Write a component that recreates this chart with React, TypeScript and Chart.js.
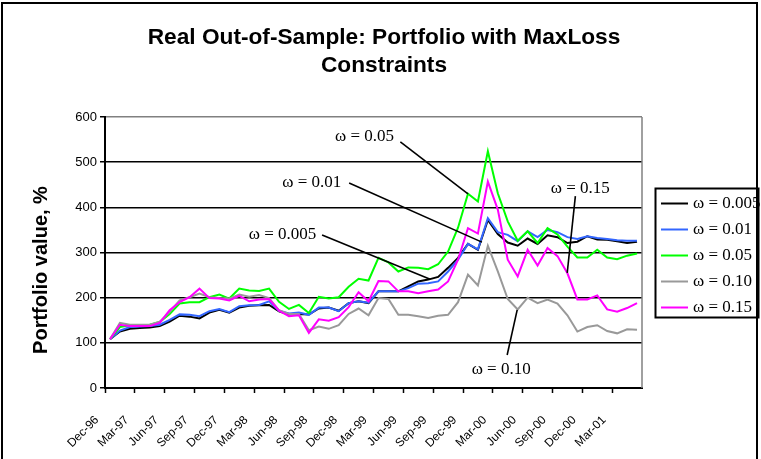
import { useEffect, useRef } from "react";
import { Chart, registerables } from "chart.js";

Chart.register(...registerables);

const months = [
  "Dec-96",
  "Jan-97", "Feb-97", "Mar-97", "Apr-97", "May-97", "Jun-97", "Jul-97", "Aug-97", "Sep-97", "Oct-97", "Nov-97", "Dec-97",
  "Jan-98", "Feb-98", "Mar-98", "Apr-98", "May-98", "Jun-98", "Jul-98", "Aug-98", "Sep-98", "Oct-98", "Nov-98", "Dec-98",
  "Jan-99", "Feb-99", "Mar-99", "Apr-99", "May-99", "Jun-99", "Jul-99", "Aug-99", "Sep-99", "Oct-99", "Nov-99", "Dec-99",
  "Jan-00", "Feb-00", "Mar-00", "Apr-00", "May-00", "Jun-00", "Jul-00", "Aug-00", "Sep-00", "Oct-00", "Nov-00", "Dec-00",
  "Jan-01", "Feb-01", "Mar-01", "Apr-01", "May-01",
];

const seriesNames = ["ω = 0.005", "ω = 0.01", "ω = 0.05", "ω = 0.10", "ω = 0.15"];
const seriesColors = ["#000000", "#3366FF", "#00FF00", "#999999", "#FF00FF"];

const omega005 = [108,125,131,133,134,137,147,160,158,154,167,173,167,178,182,183,184,170,163,164,163,176,178,171,188,192,188,214,214,214,225,236,240,246,266,288,319,306,372,341,322,315,331,319,338,334,321,324,336,329,328,325,321,324];
const omega01 = [108,127,135,136,137,140,151,163,162,159,170,175,168,181,183,184,192,171,165,167,162,178,178,170,188,192,189,214,214,214,221,231,232,236,258,284,319,307,376,345,339,325,347,334,350,345,334,330,336,332,330,327,326,326];
const omega05 = [108,135,139,139,140,146,164,187,190,190,201,207,198,220,216,215,220,191,175,184,166,202,198,201,224,242,238,288,278,258,267,266,263,274,302,355,430,413,524,431,369,326,347,321,354,340,313,289,289,306,289,285,293,298];
const omega10 = [108,144,140,140,140,147,168,194,201,209,201,199,198,207,202,206,199,172,164,164,128,136,131,139,164,176,161,199,197,162,162,159,155,160,162,190,251,227,315,258,197,174,200,188,196,187,161,125,135,139,126,121,130,129];
const omega15 = [108,140,137,137,137,144,172,190,201,220,199,198,194,204,192,196,197,171,159,161,122,152,149,157,179,212,192,237,236,214,214,210,214,218,236,284,354,342,457,395,284,247,306,271,310,292,254,196,196,205,174,169,177,188];

const seriesValues = [omega005, omega01, omega05, omega10, omega15];

const yTicks = [0, 100, 200, 300, 400, 500, 600];

const titleLines = ["Real Out-of-Sample: Portfolio with MaxLoss", "Constraints"];
const yAxisTitle = "Portfolio value, %";

// Callout labels anchored in data space: [category index, value]
const callouts = [
  { text: "ω = 0.05", at: [25.6, 556], from: [29.2, 545], to: [36, 430] },
  { text: "ω = 0.01", at: [20.3, 454], from: [24.05, 454], to: [37.4, 323] },
  { text: "ω = 0.005", at: [17.36, 339], from: [21.33, 339], to: [32.2, 241] },
  { text: "ω = 0.15", at: [47.3, 441], from: [46.8, 425], to: [45.98, 255] },
  { text: "ω = 0.10", at: [39.34, 40], from: [39.94, 73], to: [40.95, 173] },
];

const SANS = "'Liberation Sans', Arial, sans-serif";
const SERIF = "'Liberation Serif', 'Times New Roman', serif";

const decor = {
  id: "decor",
  beforeDraw(chart: any) {
    const { ctx, width, height } = chart;
    ctx.save();
    ctx.fillStyle = "#ffffff";
    ctx.fillRect(0, 0, width, height);
    ctx.restore();
  },
  beforeDatasetsDraw(chart: any) {
    const { ctx, chartArea } = chart;
    ctx.save();
    ctx.strokeStyle = "#808080";
    ctx.lineWidth = 1.5;
    ctx.beginPath();
    ctx.moveTo(chartArea.right, chartArea.top);
    ctx.lineTo(chartArea.right, chartArea.bottom);
    ctx.stroke();
    ctx.restore();
  },
  afterDraw(chart: any) {
    const { ctx, scales } = chart;
    const xs = scales.x;
    const ys = scales.y;
    ctx.save();

    // callouts
    ctx.strokeStyle = "#000";
    ctx.lineWidth = 1.6;
    ctx.fillStyle = "#000";
    ctx.font = `17px ${SERIF}`;
    ctx.textAlign = "center";
    ctx.textBaseline = "middle";
    for (const c of callouts) {
      ctx.beginPath();
      ctx.moveTo(xs.getPixelForValue(c.from[0]), ys.getPixelForValue(c.from[1]));
      ctx.lineTo(xs.getPixelForValue(c.to[0]), ys.getPixelForValue(c.to[1]));
      ctx.stroke();
      ctx.fillText(c.text, xs.getPixelForValue(c.at[0]), ys.getPixelForValue(c.at[1]));
    }

    // legend
    const lx = 655.5, ly = 188.5, lw = 103, lh = 129;
    ctx.lineWidth = 2;
    ctx.strokeStyle = "#000";
    ctx.strokeRect(lx, ly, lw, lh);
    ctx.textAlign = "left";
    ctx.font = `17px ${SERIF}`;
    chart.data.datasets.forEach((ds: any, i: number) => {
      const y = 203.5 + i * 26;
      ctx.strokeStyle = ds.borderColor;
      ctx.lineWidth = 2;
      ctx.beginPath();
      ctx.moveTo(661, y);
      ctx.lineTo(688, y);
      ctx.stroke();
      ctx.fillStyle = "#000";
      ctx.fillText(ds.label, 693, y);
    });

    // title
    ctx.fillStyle = "#000";
    ctx.font = `bold 22.7px ${SANS}`;
    ctx.textAlign = "center";
    ctx.textBaseline = "alphabetic";
    ctx.fillText(titleLines[0], 384, 44);
    ctx.fillText(titleLines[1], 384, 72);

    // y axis title
    ctx.save();
    ctx.translate(41, 270);
    ctx.rotate(-Math.PI / 2);
    ctx.font = `bold 20px ${SANS}`;
    ctx.textBaseline = "middle";
    ctx.textAlign = "center";
    ctx.fillText(yAxisTitle, 0, 0);
    ctx.restore();

    // outer chart border
    ctx.strokeStyle = "#000";
    ctx.lineWidth = 2;
    ctx.strokeRect(2, 3, 755, 520);

    ctx.restore();
  },
};

export default function App() {
  const ref = useRef<HTMLCanvasElement>(null);
  useEffect(() => {
    const canvas = ref.current;
    if (!canvas) return;
    const chart = new Chart(canvas, {
      type: "line",
      data: {
        labels: months,
        datasets: seriesValues.map((vals, i) => ({
          label: seriesNames[i],
          data: vals,
          borderColor: seriesColors[i],
          backgroundColor: seriesColors[i],
          borderWidth: 2,
          pointRadius: 0,
          tension: 0,
          fill: false,
          order: seriesValues.length - i,
        })),
      },
      options: {
        responsive: false,
        maintainAspectRatio: false,
        devicePixelRatio: 1,
        animation: false,
        layout: { padding: { top: 117, right: 119, left: 0, bottom: 0 } },
        plugins: {
          legend: { display: false },
          title: { display: false },
          tooltip: { enabled: false },
        },
        scales: {
          x: {
            type: "category",
            offset: true,
            grid: {
              offset: true,
              drawOnChartArea: false,
              drawTicks: true,
              tickLength: 5,
              tickWidth: 1.5,
              tickColor: (c: any) => (typeof c.index === "number" && c.index % 3 === 0 ? "#000" : "rgba(0,0,0,0)"),
            },
            border: { display: true, color: "#000", width: 2 },
            ticks: {
              autoSkip: false,
              minRotation: 45,
              maxRotation: 45,
              labelOffset: -13,
              padding: 20,
              color: "#000",
              font: { family: SANS, size: 12 },
              callback: (_v: any, index: number) => (index % 3 === 0 ? months[index] : ""),
            },
            afterFit: (s: any) => {
              s.height = 71;
            },
          },
          y: {
            min: 0,
            max: 600,
            afterBuildTicks: (s: any) => {
              s.ticks = yTicks.map((v) => ({ value: v }));
            },
            ticks: {
              padding: 3,
              color: "#000",
              font: { family: SANS, size: 13 },
            },
            grid: {
              color: (c: any) => (c.tick && c.tick.value === 600 ? "#808080" : "#000"),
              lineWidth: 1.5,
              drawTicks: true,
              tickLength: 5,
              tickColor: "#000",
              tickWidth: 1.5,
            },
            border: { display: true, color: "#000", width: 2 },
            afterFit: (s: any) => {
              s.width = 105;
            },
          },
        },
      },
      plugins: [decor],
    } as any);
    return () => chart.destroy();
  }, []);

  return (
    <div style={{ position: "absolute", left: 0, top: 0, width: 761, height: 459, background: "#fff" }}>
      <canvas ref={ref} width={761} height={459} style={{ display: "block", width: 761, height: 459 }} />
    </div>
  );
}
